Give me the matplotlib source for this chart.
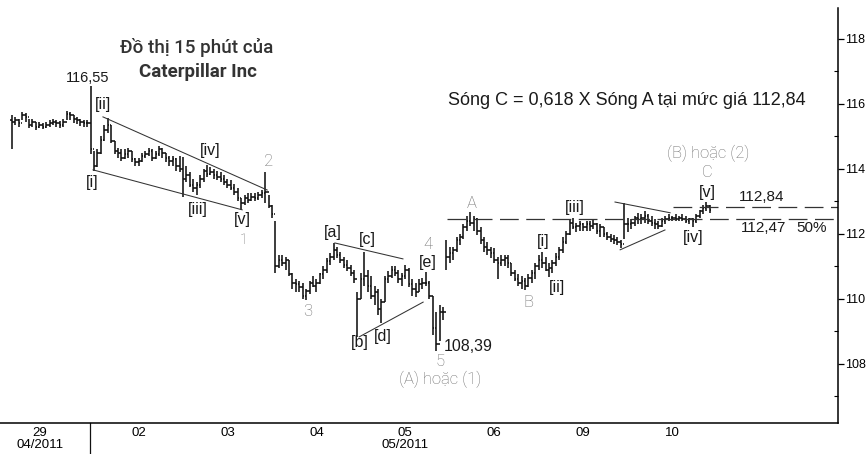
import matplotlib
matplotlib.use("Agg")
import matplotlib.pyplot as plt
import matplotlib.transforms as mtransforms
import numpy as np

# ---------------- data (15-minute bars) ----------------
days = ["29", "02", "03", "04", "05", "06", "09", "10"]
months = {"29": "04/2011", "05": "05/2011"}
bars_per_day = [23, 26, 26, 26, 26, 26, 26, 26]

highs = [
    # 29
    115.66, 115.60, 115.55, 115.75, 115.72, 115.55, 115.55, 115.45, 115.45, 115.42, 115.45, 115.50,
    115.55, 115.50, 115.48, 115.55, 115.78, 115.75, 115.65, 115.60, 115.55, 115.50, 115.50,
    # 02
    116.55, 114.55, 114.60, 115.00, 115.35, 115.57, 115.35, 114.85, 114.65, 114.60, 114.60, 114.65,
    114.55, 114.35, 114.35, 114.50, 114.55, 114.65, 114.60, 114.55, 114.70, 114.65, 114.50, 114.40,
    114.40, 114.35,
    # 03
    114.40, 114.36, 114.10, 113.90, 113.70, 113.60, 113.80, 114.00, 114.12, 114.05, 114.00, 113.95,
    113.90, 113.80, 113.70, 113.65, 113.55, 113.40, 113.10, 113.20, 113.25, 113.25, 113.25, 113.30,
    113.35, 113.91,
    # 04
    113.20, 112.90, 112.40, 111.35, 111.35, 111.30, 111.20, 110.80, 110.60, 110.55, 110.50, 110.30,
    110.55, 110.70, 110.60, 110.80, 111.00, 111.25, 111.40, 111.72, 111.60, 111.45, 111.30, 111.20,
    111.05, 110.90,
    # 05
    110.20, 110.80, 111.45, 110.90, 110.70, 110.40, 110.30, 110.00, 110.70, 110.85, 111.00, 111.00,
    110.90, 110.80, 111.05, 110.95, 110.60, 110.50, 110.60, 110.65, 110.83, 110.55, 110.10, 109.60,
    109.80, 109.75,
    # 06
    111.80, 111.60, 111.60, 111.90, 112.00, 112.30, 112.55, 112.68, 112.55, 112.50, 112.20, 111.90,
    111.75, 111.60, 111.55, 111.30, 111.35, 111.35, 111.35, 111.10, 110.90, 110.75, 110.70, 110.65,
    110.75, 110.90,
    # 09
    111.10, 111.35, 111.45, 111.30, 111.10, 111.20, 111.40, 111.60, 111.90, 112.10, 112.45, 112.50,
    112.35, 112.40, 112.35, 112.40, 112.40, 112.45, 112.35, 112.30, 112.20, 112.05, 112.00, 111.95,
    111.90, 111.80,
    # 10
    112.95, 112.50, 112.45, 112.55, 112.65, 112.60, 112.70, 112.60, 112.55, 112.45, 112.40, 112.50,
    112.55, 112.60, 112.55, 112.60, 112.55, 112.60, 112.55, 112.50, 112.50, 112.60, 112.75, 112.90,
    112.97, 112.90,
]

lows = [
    # 29
    114.60, 115.35, 115.30, 115.50, 115.45, 115.25, 115.30, 115.20, 115.25, 115.22, 115.25, 115.30,
    115.35, 115.30, 115.25, 115.30, 115.50, 115.50, 115.40, 115.38, 115.32, 115.30, 115.28,
    # 02
    114.45, 113.94, 114.05, 114.45, 114.85, 115.10, 114.80, 114.45, 114.35, 114.25, 114.30, 114.35,
    114.20, 114.10, 114.10, 114.20, 114.35, 114.40, 114.25, 114.30, 114.40, 114.35, 114.20, 114.10,
    114.10, 113.95,
    # 03
    113.90, 113.14, 113.60, 113.45, 113.30, 113.20, 113.40, 113.60, 113.75, 113.80, 113.70, 113.65,
    113.60, 113.50, 113.40, 113.35, 113.20, 113.00, 112.74, 112.90, 112.95, 113.00, 113.00, 113.05,
    113.10, 112.95,
    # 04
    112.80, 112.50, 110.80, 110.95, 111.00, 110.90, 110.70, 110.30, 110.20, 110.20, 110.00, 109.97,
    110.15, 110.35, 110.20, 110.45, 110.60, 110.80, 111.05, 111.20, 111.25, 111.10, 110.95, 110.85,
    110.70, 110.50,
    # 05
    108.83, 110.00, 110.40, 110.20, 110.00, 109.80, 109.50, 109.26, 109.90, 110.50, 110.65, 110.70,
    110.50, 110.40, 110.60, 110.35, 110.10, 110.05, 110.20, 110.30, 110.40, 110.00, 108.90, 108.39,
    108.70, 109.35,
    # 06
    110.90, 111.10, 111.20, 111.45, 111.65, 111.85, 112.10, 112.25, 112.10, 111.95, 111.70, 111.45,
    111.35, 111.25, 111.10, 110.60, 111.00, 111.00, 110.95, 110.70, 110.55, 110.40, 110.30, 110.28,
    110.35, 110.50,
    # 09
    110.60, 110.90, 110.95, 110.85, 110.68, 110.80, 111.00, 111.20, 111.40, 111.70, 111.95, 112.15,
    112.05, 112.10, 112.10, 112.10, 112.10, 112.15, 112.00, 111.90, 111.90, 111.80, 111.75, 111.70,
    111.65, 111.55,
    # 10
    111.85, 112.05, 112.15, 112.25, 112.30, 112.30, 112.35, 112.30, 112.25, 112.15, 112.15, 112.20,
    112.30, 112.40, 112.40, 112.40, 112.40, 112.40, 112.35, 112.30, 112.20, 112.35, 112.50, 112.60,
    112.70, 112.65,
]

closes = [
    # 29
    115.45, 115.50, 115.40, 115.65, 115.60, 115.35, 115.45, 115.30, 115.35, 115.30, 115.35, 115.40,
    115.45, 115.40, 115.35, 115.45, 115.70, 115.65, 115.55, 115.50, 115.45, 115.40, 115.40,
    # 02
    114.60, 114.10, 114.50, 114.90, 115.20, 115.35, 114.85, 114.55, 114.50, 114.35, 114.45, 114.55,
    114.30, 114.20, 114.25, 114.40, 114.45, 114.55, 114.35, 114.45, 114.60, 114.50, 114.35, 114.25,
    114.30, 114.10,
    # 03
    114.00, 113.70, 113.80, 113.50, 113.40, 113.50, 113.70, 113.95, 113.85, 113.90, 113.80, 113.75,
    113.70, 113.60, 113.50, 113.40, 113.30, 113.10, 112.95, 113.10, 113.05, 113.15, 113.10, 113.20,
    113.25, 113.30,
    # 04
    112.85, 112.60, 111.00, 111.20, 111.10, 111.20, 110.75, 110.50, 110.45, 110.35, 110.10, 110.25,
    110.50, 110.40, 110.50, 110.75, 110.90, 111.15, 111.30, 111.50, 111.35, 111.20, 111.05, 110.95,
    110.80, 110.60,
    # 05
    110.00, 110.60, 110.70, 110.40, 110.10, 110.20, 109.70, 109.90, 110.60, 110.70, 110.90, 110.80,
    110.60, 110.70, 110.90, 110.45, 110.30, 110.20, 110.45, 110.50, 110.50, 110.10, 109.10, 108.60,
    109.60, 109.60,
    # 06
    111.30, 111.40, 111.50, 111.80, 111.90, 112.20, 112.40, 112.35, 112.45, 112.10, 111.80, 111.60,
    111.50, 111.40, 111.20, 111.10, 111.20, 111.25, 111.10, 110.80, 110.60, 110.50, 110.55, 110.40,
    110.65, 110.80,
    # 09
    111.00, 111.20, 111.10, 110.90, 110.95, 111.10, 111.30, 111.50, 111.75, 112.00, 112.35, 112.20,
    112.25, 112.30, 112.20, 112.30, 112.25, 112.30, 112.10, 112.20, 112.00, 111.90, 111.85, 111.80,
    111.75, 111.70,
    # 10
    112.30, 112.30, 112.35, 112.50, 112.45, 112.50, 112.55, 112.40, 112.35, 112.30, 112.25, 112.40,
    112.45, 112.50, 112.50, 112.45, 112.50, 112.45, 112.40, 112.45, 112.40, 112.55, 112.70, 112.80,
    112.85, 112.75,
]
first_open = 115.50

level_top = 112.84
level_mid = 112.47

# ---------------- figure ----------------
plt.rcParams['font.family'] = ['Liberation Sans', 'DejaVu Sans']
fig = plt.figure(figsize=(8.67, 4.54), dpi=100)
ax = fig.add_axes([0.0, 0.0683, 0.9666, 0.914])

n = len(closes)
x = np.arange(n)
opens = [first_open] + closes[:-1]
ink = "#111111"
lw = 1.15
ax.vlines(x, lows, highs, color=ink, lw=lw)
ax.hlines(opens, x - 0.45, x, color=ink, lw=lw)
ax.hlines(closes, x, x + 0.45, color=ink, lw=lw)

ax.set_xlim(-3.5, 241.5)
ax.set_ylim(106.18, 118.95)

for s in ["left", "top"]:
    ax.spines[s].set_visible(False)
ax.spines["bottom"].set_linewidth(1.1)
ax.spines["right"].set_linewidth(1.1)

narrow = ['Liberation Sans Narrow', 'Liberation Sans', 'DejaVu Sans']
ax.yaxis.tick_right()
ax.set_yticks([108, 110, 112, 114, 116, 118])
ax.set_yticks([107, 109, 111, 113, 115, 117], minor=True)
ax.tick_params(axis="y", which="major", direction="out", length=4, width=0.9,
               labelsize=9, pad=1)
ax.tick_params(axis="y", which="minor", direction="in", length=3, width=0.8)
for lab in ax.get_yticklabels():
    lab.set_family(narrow)

starts = np.cumsum([0] + bars_per_day[:-1])
centers = []
labels = []
for d, s0, nb in zip(days, starts, bars_per_day):
    c = 8.2 if d == "29" else s0 + nb / 2.0 + 1.0
    centers.append(c)
    labels.append(d + ("\n" + months[d] if d in months else ""))
ax.set_xticks(centers)
ax.set_xticklabels(labels, fontsize=9.5, linespacing=0.95, family=narrow)
ax.tick_params(axis="x", length=0, pad=3)
trans = mtransforms.blended_transform_factory(ax.transData, ax.transAxes)
ax.plot([starts[1] - 0.3] * 2, [0, -0.075], transform=trans, color=ink, lw=0.9, clip_on=False)

tl = dict(color="#333333", lw=0.75)
ax.plot([26.6, 74.6], [115.60, 113.35], **tl)
ax.plot([23.7, 67.3], [113.97, 112.74], **tl)
ax.plot([94.4, 114.3], [111.72, 111.23], **tl)
ax.plot([101.5, 120.2], [108.83, 109.90], **tl)
ax.plot([176.3, 192.4], [112.98, 112.65], **tl)
ax.plot([177.8, 190.9], [111.51, 112.12], **tl)

ax.plot([127.2, 241.5], [level_mid, level_mid], color="#333333", lw=0.9, dashes=(15, 6))
ax.plot([193.3, 241.5], [level_top, level_top], color="#333333", lw=0.9, dashes=(15, 6))

blk = "#1a1a1a"
gry = "#6e6e6e"
light = ['Roboto', 'DejaVu Sans']

def t(xv, yv, s, size=11.5, color=blk, ha="center", **kw):
    ax.text(xv, yv, s, fontsize=size, color=color, ha=ha, va="center", **kw)

def g(xv, yv, s, size=12):
    ax.text(xv, yv, s, fontsize=size, color=gry, ha="center", va="center",
            family=light, fontweight="light")

t(54.1, 117.75, "Đồ thị 15 phút của", size=13.5, color="#333333", family=['Roboto', 'DejaVu Sans'], fontweight='medium')
t(54.4, 116.98, "Caterpillar Inc", size=13.5, color="#333333", family=['Roboto', 'DejaVu Sans'], fontweight='bold')
t(179.8, 116.09, "Sóng C = 0,618 X Sóng A tại mức giá 112,84", size=13)

t(22.2, 116.80, "116,55", size=10.5)
t(26.6, 115.97, "[ii]")
t(23.4, 113.57, "[i]")
t(54.4, 112.74, "[iii]")
t(57.9, 114.58, "[iv]")
t(67.3, 112.43, "[v]")
g(67.8, 111.82, "1", size=10)
g(74.9, 114.22, "2")
g(86.5, 109.60, "3")
t(93.9, 112.03, "[a]")
t(103.8, 111.82, "[c]")
t(101.8, 108.65, "[b]")
t(108.5, 108.83, "[d]")
g(121.6, 111.66, "4")
t(121.6, 111.11, "[e]")
g(125.1, 108.06, "5")
t(133.3, 108.52, "108,39", size=11.5)
g(125.1, 107.51, "(A) hoặc (1)")
g(134.5, 112.95, "A")
g(150.9, 109.88, "B")
t(155.3, 111.75, "[i]")
t(159.4, 110.34, "[ii]")
t(164.6, 112.80, "[iii]")
g(203.5, 114.49, "(B) hoặc (2)")
g(203.2, 113.88, "C")
t(203.2, 113.26, "[v]")
t(199.1, 111.88, "[iv]")
t(219.3, 113.14, "112,84", size=11)
t(219.6, 112.18, "112,47", size=11)
t(233.9, 112.18, "50%", size=11)

fig.savefig("out.png", dpi=100)
